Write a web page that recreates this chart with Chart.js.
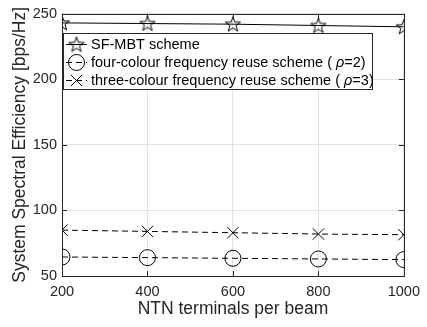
<!DOCTYPE html>
<html><head><meta charset="utf-8">
<script src="https://cdn.jsdelivr.net/npm/chart.js@4"></script>
<style>html,body{margin:0;padding:0;background:#fff;}#wrap{width:427px;height:327px;}</style>
</head><body><div id="wrap"><canvas id="c" width="427" height="327"></canvas></div>
<script>
const terminals = [200, 400, 600, 800, 1000];
const sfMbt = [243, 242.5, 242, 241, 240];
const fourColour = [64.5, 64, 63.5, 63, 62.5];
const threeColour = [85, 84, 83, 82, 81.5];
const seriesNames = ['SF-MBT scheme', 'four-colour frequency reuse scheme ( ', 'three-colour frequency reuse scheme ( '];
const rhoSuffix = ['', '=2)', '=3)'];
const xTicks = [200, 400, 600, 800, 1000];
const yTicks = [50, 100, 150, 200, 250];

const FONT = 'Liberation Sans, Arial, Helvetica, sans-serif';
const AX = '#262626';

function makeStar(r){
  const s = Math.ceil(r*2+4);
  const cv = document.createElement('canvas');
  cv.width = s; cv.height = s;
  const g = cv.getContext('2d');
  const cx = s/2, cy = s/2 + 0.5, ri = r*0.40;
  g.beginPath();
  for (let i=0;i<10;i++){
    const a = -Math.PI/2 + i*Math.PI/5;
    const rr = i%2===0 ? r : ri;
    const x = cx + rr*Math.cos(a), y = cy + rr*Math.sin(a);
    if(i===0) g.moveTo(x,y); else g.lineTo(x,y);
  }
  g.closePath();
  g.strokeStyle = '#000'; g.lineWidth = 1; g.stroke();
  return cv;
}
const starImg = makeStar(8);

const pts = arr => terminals.map((t,i)=>({x:t, y:arr[i]}));

const frame = {
  id:'frame',
  afterDraw(chart){
    const {ctx, chartArea:a, scales:{x,y}} = chart;
    ctx.save();
    ctx.strokeStyle = AX; ctx.lineWidth = 1;
    ctx.beginPath();
    const L=5;
    xTicks.forEach(v=>{const px=Math.round(x.getPixelForValue(v))+0.5;
      ctx.moveTo(px,a.bottom); ctx.lineTo(px,a.bottom-L);
      ctx.moveTo(px,a.top); ctx.lineTo(px,a.top+L);});
    yTicks.forEach(v=>{const py=Math.round(y.getPixelForValue(v))+0.5;
      ctx.moveTo(a.left,py); ctx.lineTo(a.left+L,py);
      ctx.moveTo(a.right,py); ctx.lineTo(a.right-L,py);});
    ctx.stroke();
    ctx.strokeRect(Math.round(a.left)+0.5, Math.round(a.top)+0.5, Math.round(a.right-a.left), Math.round(a.bottom-a.top));
    // legend
    const bx=63.5, by=33.5, bw=309, bh=56;
    ctx.fillStyle='#fff'; ctx.fillRect(bx,by,bw,bh);
    ctx.strokeStyle=AX; ctx.strokeRect(bx,by,bw,bh);
    const rows=[44,62,80];
    const ds = chart.data.datasets;
    ctx.textBaseline='middle';
    rows.forEach((ry,i)=>{
      const d = ds[i];
      ctx.save();
      ctx.strokeStyle='#000'; ctx.lineWidth=1;
      ctx.setLineDash(d.borderDash||[]);
      ctx.beginPath(); ctx.moveTo(66,ry+0.5); ctx.lineTo(87,ry+0.5); ctx.stroke();
      ctx.restore();
      ctx.save();
      ctx.strokeStyle='#000'; ctx.fillStyle='rgba(0,0,0,0)'; ctx.lineWidth=1;
      Chart.helpers.drawPoint(ctx,{pointStyle:d.pointStyle, radius:d.pointRadius, borderWidth:1, rotation:0}, 76.5, ry+0.5);
      ctx.restore();
      ctx.fillStyle='#000';
      ctx.font = '14.5px '+FONT;
      ctx.fillText(seriesNames[i], 91, ry+1);
      if (rhoSuffix[i]){
        let xx = 91 + ctx.measureText(seriesNames[i]).width;
        ctx.font = 'italic 14.5px '+FONT;
        ctx.fillText('\u03C1', xx, ry+1);
        xx += ctx.measureText('\u03C1').width;
        ctx.font = '14.5px '+FONT;
        ctx.fillText(rhoSuffix[i], xx, ry+1);
      }
    });
    ctx.restore();
  }
};

new Chart(document.getElementById('c'), {
  type:'line',
  data:{datasets:[
    {label:'SF-MBT scheme', data:pts(sfMbt), borderColor:'#000', borderWidth:1, pointStyle:starImg, pointRadius:8, pointBorderColor:'#000', pointBackgroundColor:'rgba(0,0,0,0)'},
    {label:'four-colour frequency reuse scheme (ρ=2)', data:pts(fourColour), borderColor:'#000', borderWidth:1, borderDash:[6,4], pointStyle:'circle', pointRadius:8, pointBorderWidth:1, pointBorderColor:'#000', pointBackgroundColor:'rgba(0,0,0,0)'},
    {label:'three-colour frequency reuse scheme (ρ=3)', data:pts(threeColour), borderColor:'#000', borderWidth:1, borderDash:[6,4], pointStyle:'crossRot', pointRadius:8, pointBorderWidth:1, pointBorderColor:'#000', pointBackgroundColor:'rgba(0,0,0,0)'}
  ]},
  options:{
    responsive:false, animation:false, devicePixelRatio:1,
    layout:{padding:{left:0,right:17,top:10,bottom:0}},
    plugins:{legend:{display:false}, tooltip:{enabled:false}},
    scales:{
      x:{type:'linear', min:200, max:1000,
        afterBuildTicks(s){s.ticks = xTicks.map(v=>({value:v}));},
        afterFit(s){s.height=51;},
        grid:{color:'#e3e3e3', drawTicks:false},
        border:{display:false},
        ticks:{color:AX, padding:7, font:{family:FONT, size:14.5}, maxRotation:0, autoSkip:false, callback:v=>String(v)},
        title:{display:true, text:'NTN terminals per beam', color:AX, font:{family:FONT, size:17.5, lineHeight:1.2}, padding:{top:0,bottom:7}}
      },
      y:{type:'linear', min:50, max:250,
        afterBuildTicks(s){s.ticks = yTicks.map(v=>({value:v}));},
        afterFit(s){s.width=62;},
        grid:{color:'#e3e3e3', drawTicks:false},
        border:{display:false},
        ticks:{color:AX, padding:5, font:{family:FONT, size:14.5}, callback:v=>String(v)},
        title:{display:true, text:'System Spectral Efficiency [bps/Hz]', color:AX, font:{family:FONT, size:17.5, lineHeight:1.2}, padding:{top:10,bottom:0}}
      }
    }
  },
  plugins:[frame]
});
</script></body></html>
